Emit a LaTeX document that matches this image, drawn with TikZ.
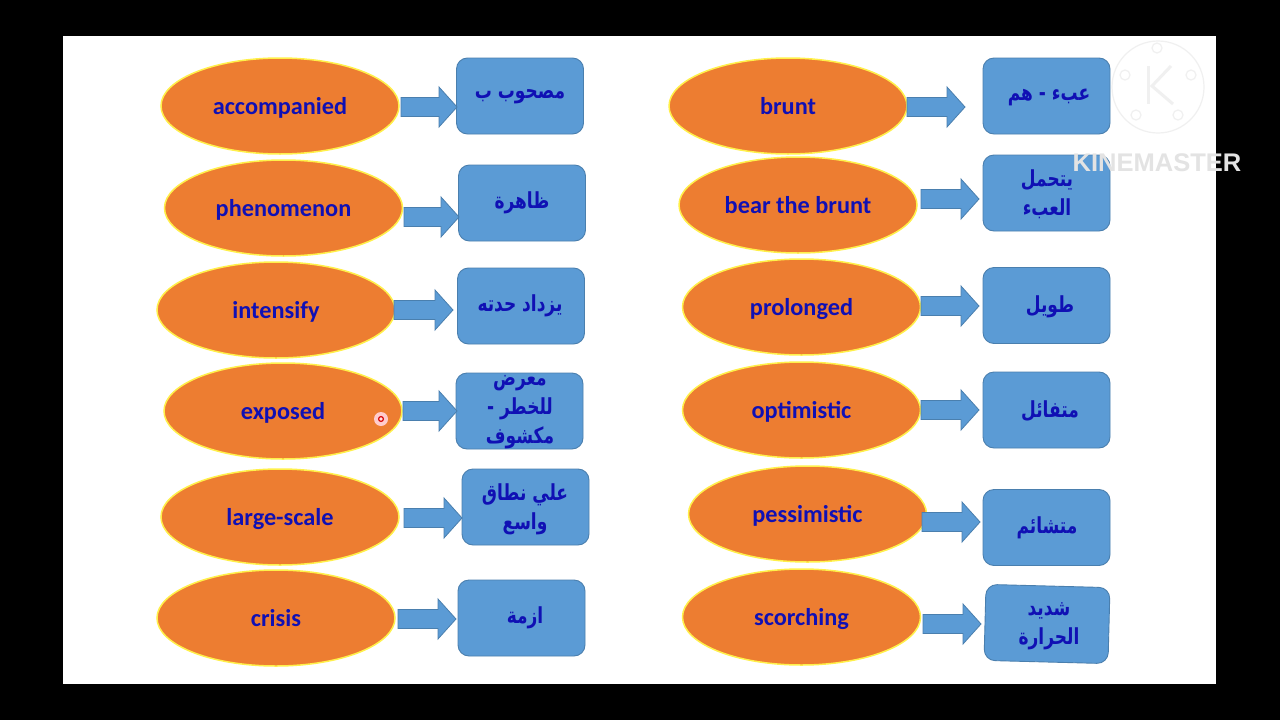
\documentclass[tikz,border=0pt]{standalone}
\usepackage{fontspec}
\usepackage{graphicx}
\usetikzlibrary{shapes.geometric}
\TeXXeTstate=1
\setmainfont{Carlito}
\newfontfamily\arabicfont[Script=Arabic]{DejaVu Sans}
\newfontfamily\wmfont{Liberation Sans}
\newcommand{\ar}[1]{\scalebox{1}[1.3]{\arabicfont\bfseries\beginR #1\endR}}
\definecolor{ovalfill}{HTML}{ED7D31}
\definecolor{ovalline}{HTML}{FFF04A}
\definecolor{boxfill}{HTML}{5B9BD5}
\definecolor{boxline}{HTML}{4A7FAE}
\definecolor{inkblue}{HTML}{1010B4}
\tikzset{
  oval/.style={ellipse,draw=ovalline,line width=1.5pt,fill=ovalfill,minimum width=238pt,minimum height=96pt,inner sep=0pt,text=inkblue,text depth=0pt,font=\fontsize{24.3}{28}\selectfont\bfseries},
  bluebox/.style={rectangle,rounded corners=11pt,draw=boxline,line width=0.9pt,fill=boxfill,minimum width=127pt,minimum height=76pt,inner sep=0pt},
  artext/.style={text=inkblue,align=center,inner sep=0pt,font=\fontsize{17}{29}\selectfont},
  wmring/.style={draw=black!6,line width=1.2pt},
}
\newcommand{\barrow}[4]{\path[draw=boxline,line width=0.8pt,fill=boxfill]
  (#2,#4-9.5) -- (#3-18,#4-9.5) -- (#3-18,#4-20) -- (#3,#4) -- (#3-18,#4+20) -- (#3-18,#4+9.5) -- (#2,#4+9.5) -- cycle;
  \coordinate (#1) at (#3,#4);}
\begin{document}
\begin{tikzpicture}[x=1pt,y=-1pt]
\useasboundingbox (0,0) rectangle (1280,720);
\fill[black] (0,0) rectangle (1280,720);
\fill[white] (63,36) rectangle (1216,684);
% left column
\node[oval] (e1) at (280,106) {accompanied};
\node[oval] (e2) at (283.5,208) {phenomenon};
\node[oval] (e3) at (276,310) {intensify};
\node[oval] (e4) at (283,411) {exposed};
\node[oval] (e5) at (280,517) {large-scale};
\node[oval] (e6) at (276,618) {crisis};
% right column
\node[oval] (e7) at (788,106) {brunt};
\node[oval] (e8) at (798,205) {bear the brunt};
\node[oval] (e9) at (801.5,307) {prolonged};
\node[oval] (e10) at (801.5,410) {optimistic};
\node[oval] (e11) at (807.5,514) {pessimistic};
\node[oval] (e12) at (801.5,617) {scorching};
% boxes
\node[bluebox] (b1) at (520,96) {};
\node[bluebox] (b2) at (522,203) {};
\node[bluebox] (b3) at (521,306) {};
\node[bluebox] (b4) at (519.5,411) {};
\node[bluebox] (b5) at (525.5,507) {};
\node[bluebox] (b6) at (521.5,618) {};
\node[bluebox] (b7) at (1046.5,96) {};
\node[bluebox] (b8) at (1046.5,193) {};
\node[bluebox] (b9) at (1046.5,305.5) {};
\node[bluebox] (b10) at (1046.5,410) {};
\node[bluebox] (b11) at (1046.5,527.5) {};
\node[bluebox,rotate=-1.5,minimum width=124pt] (b12) at (1047,624) {};
% arrows
\barrow{a1}{401}{457}{107}
\barrow{a2}{404}{459}{217}
\barrow{a3}{394}{453}{310}
\barrow{a4}{403}{457}{411}
\barrow{a5}{404}{462}{518}
\barrow{a6}{398}{456}{619}
\barrow{a7}{907}{965}{107}
\barrow{a8}{921}{979}{199}
\barrow{a9}{921}{979}{306}
\barrow{a10}{921}{979}{410}
\barrow{a11}{922}{980}{522}
\barrow{a12}{923}{981}{624}
% labels
\node[artext] (t1) at (520,97) {\ar{مصحوب ب}};
\node[artext] (t2) at (522,203) {\ar{ظاهرة}};
\node[artext] (t3) at (520,306) {\ar{يزداد حدته}};
\node[artext] (t4) at (520,412) {\ar{معرض}\\\ar{للخطر -}\\\ar{مكشوف}};
\node[artext] (t5) at (525,509) {\ar{علي نطاق}\\\ar{واسع}};
\node[artext] (t6) at (525,618) {\ar{ازمة}};
\node[artext] (t7) at (1049,97) {\ar{عبء - هم}};
\node[artext] (t8) at (1047,194) {\ar{يتحمل}\\\ar{العبء}};
\node[artext] (t9) at (1050,307) {\ar{طويل}};
\node[artext] (t10) at (1050,411) {\ar{متفائل}};
\node[artext] (t11) at (1047,528) {\ar{متشائم}};
\node[artext] (t12) at (1049,626) {\ar{شديد}\\\ar{الحرارة}};
% pointer
\fill[red!20] (381,419) circle (7pt);
\draw[red!85!black,line width=1.2pt,fill=red!10] (381,419) circle (2.4pt);
% watermark
\draw[wmring] (1158,87) circle (46pt);
\draw[wmring] (1157,48) circle (5pt);
\draw[wmring] (1125,75) circle (5pt);
\draw[wmring] (1191,75) circle (5pt);
\draw[wmring] (1136,115) circle (5pt);
\draw[wmring] (1178,115) circle (5pt);
\draw[wmring,line width=3pt] (1148,66) -- (1148,104);
\draw[wmring,line width=3pt] (1171,66) -- (1152,86) -- (1173,104);
\node[inner sep=0pt,text=black!11,font=\fontsize{25.5}{28}\selectfont\wmfont\bfseries] (wm) at (1157,163) {KINEMASTER};
\end{tikzpicture}
\end{document}
